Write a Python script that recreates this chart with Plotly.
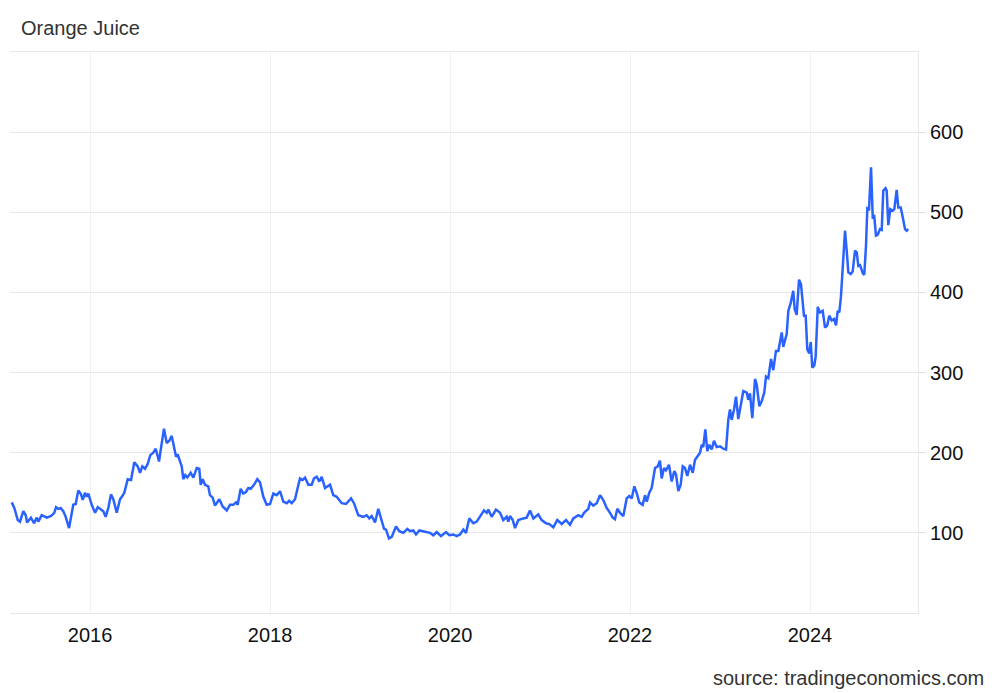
import plotly.graph_objects as go

# Decimal-year time stamps and Orange Juice price (USd/lbs)
t_year = [
    2015.130, 2015.159, 2015.197, 2015.222, 2015.259, 2015.286, 2015.300, 2015.344, 2015.378, 2015.408,
    2015.426, 2015.463, 2015.519, 2015.567, 2015.603, 2015.622, 2015.648, 2015.674, 2015.703, 2015.730,
    2015.767, 2015.797, 2015.814, 2015.841, 2015.870, 2015.900, 2015.919, 2015.944, 2015.963, 2015.981,
    2016.019, 2016.056, 2016.086, 2016.111, 2016.148, 2016.174, 2016.203, 2016.233, 2016.259, 2016.297,
    2016.333, 2016.359, 2016.381, 2016.419, 2016.456, 2016.492, 2016.530, 2016.556, 2016.581, 2016.611,
    2016.641, 2016.670, 2016.703, 2016.730, 2016.767, 2016.789, 2016.822, 2016.852, 2016.881, 2016.908,
    2016.926, 2016.956, 2016.974, 2016.992, 2017.019, 2017.037, 2017.059, 2017.081, 2017.119, 2017.148,
    2017.186, 2017.214, 2017.230, 2017.252, 2017.278, 2017.314, 2017.333, 2017.363, 2017.389, 2017.437,
    2017.474, 2017.519, 2017.556, 2017.592, 2017.622, 2017.641, 2017.674, 2017.703, 2017.733, 2017.759,
    2017.786, 2017.822, 2017.859, 2017.889, 2017.926, 2017.963, 2018.000, 2018.037, 2018.074, 2018.111,
    2018.148, 2018.186, 2018.214, 2018.241, 2018.278, 2018.303, 2018.333, 2018.363, 2018.389, 2018.426,
    2018.463, 2018.489, 2018.519, 2018.548, 2018.574, 2018.611, 2018.667, 2018.703, 2018.741, 2018.797,
    2018.844, 2018.900, 2018.933, 2018.981, 2019.037, 2019.074, 2019.103, 2019.130, 2019.167, 2019.203,
    2019.230, 2019.267, 2019.289, 2019.322, 2019.352, 2019.400, 2019.437, 2019.481, 2019.526, 2019.556,
    2019.592, 2019.622, 2019.659, 2019.722, 2019.778, 2019.814, 2019.852, 2019.900, 2019.956, 2019.992,
    2020.037, 2020.074, 2020.111, 2020.148, 2020.178, 2020.214, 2020.259, 2020.297, 2020.333, 2020.378,
    2020.408, 2020.426, 2020.463, 2020.511, 2020.556, 2020.592, 2020.630, 2020.648, 2020.667, 2020.697,
    2020.722, 2020.759, 2020.814, 2020.852, 2020.889, 2020.926, 2020.981, 2021.019, 2021.067, 2021.103,
    2021.148, 2021.192, 2021.241, 2021.289, 2021.333, 2021.370, 2021.426, 2021.463, 2021.489, 2021.537,
    2021.556, 2021.592, 2021.630, 2021.667, 2021.703, 2021.741, 2021.778, 2021.808, 2021.833, 2021.859,
    2021.889, 2021.926, 2021.963, 2021.992, 2022.019, 2022.048, 2022.074, 2022.103, 2022.141, 2022.167,
    2022.186, 2022.214, 2022.241, 2022.278, 2022.308, 2022.333, 2022.352, 2022.378, 2022.400, 2022.433,
    2022.463, 2022.492, 2022.511, 2022.537, 2022.563, 2022.586, 2022.611, 2022.637, 2022.667, 2022.697,
    2022.722, 2022.748, 2022.778, 2022.797, 2022.814, 2022.837, 2022.859, 2022.881, 2022.908, 2022.933,
    2022.963, 2023.000, 2023.037, 2023.067, 2023.092, 2023.111, 2023.130, 2023.156, 2023.178, 2023.203,
    2023.230, 2023.259, 2023.297, 2023.314, 2023.333, 2023.359, 2023.389, 2023.408, 2023.437, 2023.463,
    2023.492, 2023.511, 2023.537, 2023.567, 2023.592, 2023.622, 2023.648, 2023.686, 2023.703, 2023.741,
    2023.759, 2023.786, 2023.814, 2023.830, 2023.852, 2023.878, 2023.900, 2023.933, 2023.952, 2023.970,
    2023.992, 2024.008, 2024.026, 2024.048, 2024.063, 2024.086, 2024.111, 2024.141, 2024.167, 2024.192,
    2024.214, 2024.241, 2024.267, 2024.289, 2024.308, 2024.326, 2024.344, 2024.363, 2024.389, 2024.408,
    2024.426, 2024.452, 2024.474, 2024.500, 2024.519, 2024.537, 2024.556, 2024.586, 2024.603, 2024.622,
    2024.637, 2024.656, 2024.678, 2024.697, 2024.714, 2024.733, 2024.752, 2024.778, 2024.797, 2024.814,
    2024.839, 2024.852, 2024.870, 2024.892, 2024.919, 2024.937, 2024.963, 2024.981, 2025.008, 2025.030,
    2025.056, 2025.074, 2025.092,
]
price = [
    138, 131, 116, 114, 127, 122, 113, 119, 112, 119,
    114, 122, 119, 121, 125, 132, 130, 131, 127, 120,
    106, 122, 135, 136, 153, 148, 141, 150, 145, 149,
    135, 125, 132, 130, 127, 120, 131, 148, 142, 125,
    142, 146, 150, 167, 166, 188, 183, 175, 183, 180,
    186, 197, 200, 205, 189, 206, 230, 212, 215, 221,
    212, 195, 198, 192, 183, 167, 172, 169, 175, 169,
    181, 180, 160, 167, 160, 158, 147, 144, 134, 142,
    133, 128, 135, 135, 138, 135, 155, 149, 151, 156,
    155, 160, 167, 163, 145, 135, 136, 149, 147, 152,
    139, 137, 140, 137, 142, 154, 168, 166, 169, 160,
    160, 168, 170, 164, 170, 156, 160, 147, 145, 137,
    136, 143, 137, 122, 120, 122, 118, 121, 113, 130,
    120, 105, 104, 93, 95, 108, 102, 100, 105, 102,
    103, 98, 103, 101, 100, 97, 101, 96, 101, 97,
    98, 96, 98, 104, 100, 118, 112, 114, 120, 128,
    125, 129, 120, 129, 125, 116, 120, 114, 121, 116,
    106, 116, 118, 119, 128, 118, 123, 116, 112, 111,
    107, 116, 111, 116, 110, 118, 122, 120, 125, 130,
    138, 134, 137, 147, 141, 131, 125, 119, 117, 130,
    125, 121, 143, 146, 143, 158, 150, 138, 135, 147,
    139, 150, 156, 181, 183, 190, 168, 181, 178, 185,
    164, 177, 173, 152, 160, 183, 181, 171, 185, 175,
    191, 195, 200, 210, 207, 229, 202, 210, 204, 215,
    207, 208, 205, 204, 241, 254, 241, 254, 270, 242,
    260, 277, 275, 266, 274, 243, 292, 285, 258, 264,
    275, 295, 293, 317, 303, 327, 327, 350, 332, 348,
    377, 387, 402, 379, 372, 416, 410, 371, 371, 329,
    324, 338, 306, 309, 320, 382, 375, 377, 356, 359,
    371, 365, 367, 359, 377, 375, 395, 437, 477, 452,
    425, 423, 426, 452, 450, 433, 434, 424, 422, 458,
    505, 504, 556, 494, 495, 471, 472, 479, 478, 527,
    530, 527, 484, 504, 502, 504, 528, 506, 506, 494,
    479, 477, 479,
]

x_tick_vals = [2016, 2018, 2020, 2022, 2024]
x_tick_text = ["2016", "2018", "2020", "2022", "2024"]
y_tick_vals = [100, 200, 300, 400, 500, 600]
y_tick_text = ["100", "200", "300", "400", "500", "600"]

title_text = "Orange Juice"
source_text = "source: tradingeconomics.com"

# The browser page adds an 8px body margin, so the figure is sized to fit inside it.
W, H = 992, 685
ML, MR, MT, MB = 2, 82, 44, 80

fig = go.Figure()
fig.add_trace(go.Scatter(
    x=t_year, y=price, mode="lines",
    line=dict(color="#2962FF", width=2.5),
    hoverinfo="skip", showlegend=False,
))

grid_c = "#e8e8e8"
fig.update_layout(
    width=W, height=H,
    margin=dict(l=ML, r=MR, t=MT, b=MB, autoexpand=False),
    paper_bgcolor="white", plot_bgcolor="white",
    font=dict(family="Liberation Sans, Arial, sans-serif", size=20, color="#111111"),
    xaxis=dict(
        range=[2015.111, 2025.2],
        tickmode="array", tickvals=x_tick_vals, ticktext=x_tick_text,
        showgrid=True, gridcolor="#eef0f2", gridwidth=1,
        showline=True, linecolor=grid_c, linewidth=1, mirror=True,
        ticks="outside", ticklen=4, tickcolor="rgba(0,0,0,0)", zeroline=False,
        tickfont=dict(size=20, color="#111111"),
    ),
    yaxis=dict(
        range=[0, 700], side="right",
        tickmode="array", tickvals=y_tick_vals, ticktext=y_tick_text,
        showgrid=True, gridcolor=grid_c, gridwidth=1,
        showline=True, linecolor=grid_c, linewidth=1,
        ticks="outside", ticklen=7, tickcolor="#dddddd",
        zeroline=False,
        tickfont=dict(size=20, color="#111111"),
    ),
)

pw = W - ML - MR
ph = H - MT - MB


def to_paper(px, py):
    # page pixel -> paper coordinates (page = figure + 8px body margin)
    fx, fy = px - 8, py - 8
    return (fx - ML) / pw, 1 - (fy - MT) / ph


tx, ty = to_paper(19, 28)
sx, sy = to_paper(986, 678)
fig.add_annotation(text=title_text, x=tx, y=ty, xref="paper", yref="paper",
                   showarrow=False, font=dict(size=20, color="#333333"),
                   xanchor="left", yanchor="middle")
fig.add_annotation(text=source_text, x=sx, y=sy, xref="paper", yref="paper",
                   showarrow=False, font=dict(size=20, color="#333333"),
                   xanchor="right", yanchor="middle")

fig.write_html("out.html")
